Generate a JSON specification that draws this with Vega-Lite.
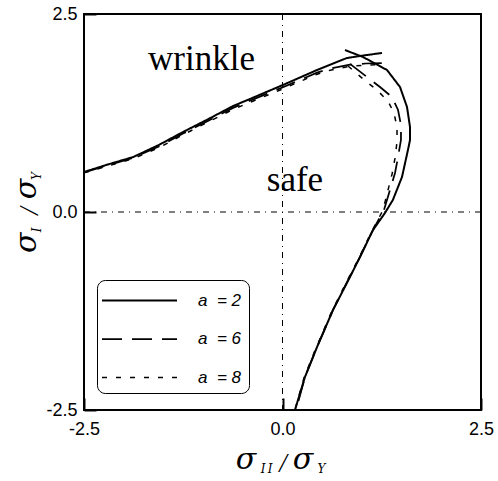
{
  "$schema": "https://vega.github.io/schema/vega-lite/v6.json",
  "width": 397,
  "height": 396,
  "autosize": {"type": "none"},
  "padding": {"left": 84, "top": 14, "right": 17, "bottom": 71},
  "background": "white",
  "config": {
    "view": {"stroke": "black", "strokeWidth": 2},
    "axis": {
      "domain": false,
      "grid": false,
      "ticks": true,
      "tickSize": -12,
      "tickWidth": 2,
      "tickColor": "black",
      "labelFont": "Liberation Sans",
      "labelFontSize": 18,
      "labelColor": "black",
      "labelFlush": false,
      "labelOverlap": false
    },
    "text": {"color": "black"}
  },
  "layer": [
    {
      "data": {
        "values": [
          {"a": "2", "part": "upper", "x": -2.5, "y": 0.505},
          {"a": "2", "part": "upper", "x": -2.2, "y": 0.6},
          {"a": "2", "part": "upper", "x": -1.88, "y": 0.694},
          {"a": "2", "part": "upper", "x": -1.55, "y": 0.85},
          {"a": "2", "part": "upper", "x": -1.253, "y": 1.01},
          {"a": "2", "part": "upper", "x": -0.94, "y": 1.17},
          {"a": "2", "part": "upper", "x": -0.623, "y": 1.338},
          {"a": "2", "part": "upper", "x": -0.41, "y": 1.427},
          {"a": "2", "part": "upper", "x": 0.006, "y": 1.604},
          {"a": "2", "part": "upper", "x": 0.435, "y": 1.793},
          {"a": "2", "part": "upper", "x": 0.81, "y": 1.944},
          {"a": "2", "part": "upper", "x": 0.976, "y": 1.97},
          {"a": "2", "part": "upper", "x": 1.253, "y": 2.008},

          {"a": "2", "part": "right", "x": 0.787, "y": 2.045},
          {"a": "2", "part": "right", "x": 1.014, "y": 1.957},
          {"a": "2", "part": "right", "x": 1.316, "y": 1.793},
          {"a": "2", "part": "right", "x": 1.48, "y": 1.578},
          {"a": "2", "part": "right", "x": 1.568, "y": 1.326},
          {"a": "2", "part": "right", "x": 1.606, "y": 1.073},
          {"a": "2", "part": "right", "x": 1.606, "y": 0.909},
          {"a": "2", "part": "right", "x": 1.58, "y": 0.783},
          {"a": "2", "part": "right", "x": 1.505, "y": 0.442},
          {"a": "2", "part": "right", "x": 1.39, "y": 0.152},
          {"a": "2", "part": "right", "x": 1.29, "y": -0.013},
          {"a": "2", "part": "right", "x": 1.14, "y": -0.227},
          {"a": "2", "part": "right", "x": 0.976, "y": -0.568},
          {"a": "2", "part": "right", "x": 0.85, "y": -0.82},
          {"a": "2", "part": "right", "x": 0.636, "y": -1.237},
          {"a": "2", "part": "right", "x": 0.435, "y": -1.705},
          {"a": "2", "part": "right", "x": 0.283, "y": -2.083},
          {"a": "2", "part": "right", "x": 0.157, "y": -2.5},

          {"a": "6", "part": "upper", "x": -2.5, "y": 0.5},
          {"a": "6", "part": "upper", "x": -2.2, "y": 0.59},
          {"a": "6", "part": "upper", "x": -1.88, "y": 0.685},
          {"a": "6", "part": "upper", "x": -1.55, "y": 0.83},
          {"a": "6", "part": "upper", "x": -1.253, "y": 0.99},
          {"a": "6", "part": "upper", "x": -0.94, "y": 1.15},
          {"a": "6", "part": "upper", "x": -0.623, "y": 1.315},
          {"a": "6", "part": "upper", "x": -0.3, "y": 1.45},
          {"a": "6", "part": "upper", "x": 0.006, "y": 1.575},
          {"a": "6", "part": "upper", "x": 0.435, "y": 1.76},
          {"a": "6", "part": "upper", "x": 0.6, "y": 1.81},
          {"a": "6", "part": "upper", "x": 0.85, "y": 1.86},
          {"a": "6", "part": "upper", "x": 1.05, "y": 1.875},
          {"a": "6", "part": "upper", "x": 1.25, "y": 1.88},

          {"a": "6", "part": "right", "x": 0.85, "y": 1.87},
          {"a": "6", "part": "right", "x": 1.064, "y": 1.705},
          {"a": "6", "part": "right", "x": 1.228, "y": 1.578},
          {"a": "6", "part": "right", "x": 1.379, "y": 1.452},
          {"a": "6", "part": "right", "x": 1.455, "y": 1.288},
          {"a": "6", "part": "right", "x": 1.492, "y": 1.098},
          {"a": "6", "part": "right", "x": 1.492, "y": 0.909},
          {"a": "6", "part": "right", "x": 1.455, "y": 0.694},
          {"a": "6", "part": "right", "x": 1.417, "y": 0.492},
          {"a": "6", "part": "right", "x": 1.354, "y": 0.278},
          {"a": "6", "part": "right", "x": 1.278, "y": 0.025},
          {"a": "6", "part": "right", "x": 1.127, "y": -0.25},
          {"a": "6", "part": "right", "x": 0.976, "y": -0.568},
          {"a": "6", "part": "right", "x": 0.84, "y": -0.833},
          {"a": "6", "part": "right", "x": 0.636, "y": -1.237},
          {"a": "6", "part": "right", "x": 0.435, "y": -1.705},
          {"a": "6", "part": "right", "x": 0.283, "y": -2.083},
          {"a": "6", "part": "right", "x": 0.17, "y": -2.5},

          {"a": "8", "part": "upper", "x": -2.5, "y": 0.495},
          {"a": "8", "part": "upper", "x": -2.2, "y": 0.58},
          {"a": "8", "part": "upper", "x": -1.88, "y": 0.675},
          {"a": "8", "part": "upper", "x": -1.55, "y": 0.815},
          {"a": "8", "part": "upper", "x": -1.253, "y": 0.975},
          {"a": "8", "part": "upper", "x": -0.94, "y": 1.135},
          {"a": "8", "part": "upper", "x": -0.623, "y": 1.295},
          {"a": "8", "part": "upper", "x": -0.3, "y": 1.43},
          {"a": "8", "part": "upper", "x": 0.006, "y": 1.555},
          {"a": "8", "part": "upper", "x": 0.435, "y": 1.74},
          {"a": "8", "part": "upper", "x": 0.6, "y": 1.79},
          {"a": "8", "part": "upper", "x": 0.85, "y": 1.84},
          {"a": "8", "part": "upper", "x": 1.05, "y": 1.855},
          {"a": "8", "part": "upper", "x": 1.2, "y": 1.86},

          {"a": "8", "part": "right", "x": 0.825, "y": 1.843},
          {"a": "8", "part": "right", "x": 1.014, "y": 1.68},
          {"a": "8", "part": "right", "x": 1.19, "y": 1.54},
          {"a": "8", "part": "right", "x": 1.329, "y": 1.4},
          {"a": "8", "part": "right", "x": 1.404, "y": 1.25},
          {"a": "8", "part": "right", "x": 1.442, "y": 1.073},
          {"a": "8", "part": "right", "x": 1.442, "y": 0.884},
          {"a": "8", "part": "right", "x": 1.417, "y": 0.68},
          {"a": "8", "part": "right", "x": 1.38, "y": 0.48},
          {"a": "8", "part": "right", "x": 1.329, "y": 0.278},
          {"a": "8", "part": "right", "x": 1.266, "y": 0.025},
          {"a": "8", "part": "right", "x": 1.114, "y": -0.265},
          {"a": "8", "part": "right", "x": 0.963, "y": -0.58},
          {"a": "8", "part": "right", "x": 0.825, "y": -0.846},
          {"a": "8", "part": "right", "x": 0.623, "y": -1.25},
          {"a": "8", "part": "right", "x": 0.422, "y": -1.717},
          {"a": "8", "part": "right", "x": 0.27, "y": -2.096},
          {"a": "8", "part": "right", "x": 0.157, "y": -2.5}
        ]
      },
      "mark": {"type": "line", "color": "black", "strokeCap": "butt"},
      "encoding": {
        "x": {
          "field": "x", "type": "quantitative",
          "scale": {"domain": [-2.5, 2.5], "nice": false, "zero": false},
          "axis": {
            "title": null,
            "values": [-2.5, 0, 2.5],
            "labelExpr": "datum.value < 0 ? '-2.5' : format(datum.value, '.1f')",
            "labelPadding": 22
          }
        },
        "y": {
          "field": "y", "type": "quantitative",
          "scale": {"domain": [-2.5, 2.5], "nice": false, "zero": false},
          "axis": {
            "title": null,
            "values": [-2.5, 0, 2.5],
            "labelExpr": "datum.value < 0 ? '-2.5' : format(datum.value, '.1f')",
            "labelPadding": 19
          }
        },
        "detail": {"field": "part"},
        "order": {"value": null},
        "strokeDash": {
          "field": "a", "type": "ordinal",
          "scale": {"domain": ["2", "6", "8"], "range": [[1, 0], [20, 10], [5, 9]]},
          "legend": {
            "title": null,
            "orient": "none",
            "legendX": 13,
            "legendY": 266,
            "labelExpr": "'a\u00a0\u00a0= ' + datum.label",
            "strokeColor": "black",
            "cornerRadius": 8,
            "fillColor": "white",
            "padding": 7,
            "rowPadding": 16.5,
            "symbolType": "M-3,0H3",
            "symbolSize": 625,
            "symbolStrokeWidth": 1.5,
            "symbolStrokeColor": "black",
            "symbolOffset": 22,
            "labelOffset": 45,
            "labelFont": "Liberation Sans",
            "labelFontSize": 17,
            "labelFontStyle": "italic",
            "labelColor": "black"
          }
        },
        "strokeWidth": {
          "field": "a", "type": "ordinal",
          "scale": {"domain": ["2", "6", "8"], "range": [2, 1.5, 1.5]},
          "legend": null
        }
      }
    },
    {
      "data": {"values": [{}]},
      "mark": {"type": "rule", "color": "black", "strokeWidth": 1, "strokeDash": [6, 5, 1, 5]},
      "encoding": {
        "x": {"datum": 0, "type": "quantitative", "scale": {"domain": [-2.5, 2.5], "nice": false}}
      }
    },
    {
      "data": {"values": [{}]},
      "mark": {"type": "rule", "color": "black", "strokeWidth": 1, "strokeDash": [6, 5, 1, 5]},
      "encoding": {
        "y": {"datum": 0, "type": "quantitative", "scale": {"domain": [-2.5, 2.5], "nice": false}}
      }
    },
    {
      "data": {"values": [{}]},
      "mark": {"type": "text", "text": "wrinkle", "font": "Liberation Serif", "fontSize": 35, "align": "center", "baseline": "alphabetic"},
      "encoding": {
        "x": {"datum": -1.02, "type": "quantitative", "scale": {"domain": [-2.5, 2.5], "nice": false}},
        "y": {"datum": 1.79, "type": "quantitative", "scale": {"domain": [-2.5, 2.5], "nice": false}}
      }
    },
    {
      "data": {"values": [{}]},
      "mark": {"type": "text", "text": "safe", "font": "Liberation Serif", "fontSize": 35, "align": "center", "baseline": "alphabetic"},
      "encoding": {
        "x": {"datum": 0.157, "type": "quantitative", "scale": {"domain": [-2.5, 2.5], "nice": false}},
        "y": {"datum": 0.27, "type": "quantitative", "scale": {"domain": [-2.5, 2.5], "nice": false}}
      }
    },
    {
      "data": {"values": [{}]},
      "mark": {"type": "text", "text": "σ", "font": "DejaVu Serif", "fontStyle": "italic", "fontSize": 30, "align": "center", "baseline": "alphabetic"},
      "encoding": {
        "x": {"datum": -0.46, "type": "quantitative", "scale": {"domain": [-2.5, 2.5], "nice": false}},
        "y": {"datum": -3.24, "type": "quantitative", "scale": {"domain": [-2.5, 2.5], "nice": false}}
      }
    },
    {
      "data": {"values": [{}]},
      "mark": {"type": "text", "text": "I\u2009I", "font": "DejaVu Serif", "fontStyle": "italic", "fontSize": 12, "align": "center", "baseline": "alphabetic"},
      "encoding": {
        "x": {"datum": -0.2, "type": "quantitative", "scale": {"domain": [-2.5, 2.5], "nice": false}},
        "y": {"datum": -3.3, "type": "quantitative", "scale": {"domain": [-2.5, 2.5], "nice": false}}
      }
    },
    {
      "data": {"values": [{}]},
      "mark": {"type": "text", "text": "/", "font": "Liberation Serif", "fontStyle": "italic", "fontSize": 27, "align": "center", "baseline": "alphabetic"},
      "encoding": {
        "x": {"datum": 0.006, "type": "quantitative", "scale": {"domain": [-2.5, 2.5], "nice": false}},
        "y": {"datum": -3.28, "type": "quantitative", "scale": {"domain": [-2.5, 2.5], "nice": false}}
      }
    },
    {
      "data": {"values": [{}]},
      "mark": {"type": "text", "text": "σ", "font": "DejaVu Serif", "fontStyle": "italic", "fontSize": 30, "align": "center", "baseline": "alphabetic"},
      "encoding": {
        "x": {"datum": 0.258, "type": "quantitative", "scale": {"domain": [-2.5, 2.5], "nice": false}},
        "y": {"datum": -3.24, "type": "quantitative", "scale": {"domain": [-2.5, 2.5], "nice": false}}
      }
    },
    {
      "data": {"values": [{}]},
      "mark": {"type": "text", "text": "Y", "font": "DejaVu Serif", "fontStyle": "italic", "fontSize": 12, "align": "center", "baseline": "alphabetic"},
      "encoding": {
        "x": {"datum": 0.49, "type": "quantitative", "scale": {"domain": [-2.5, 2.5], "nice": false}},
        "y": {"datum": -3.3, "type": "quantitative", "scale": {"domain": [-2.5, 2.5], "nice": false}}
      }
    },
    {
      "data": {"values": [{}]},
      "mark": {"type": "text", "text": "σ", "font": "DejaVu Serif", "fontStyle": "italic", "fontSize": 30, "align": "center", "baseline": "alphabetic", "angle": 270},
      "encoding": {
        "x": {"datum": -3.1, "type": "quantitative", "scale": {"domain": [-2.5, 2.5], "nice": false}},
        "y": {"datum": -0.39, "type": "quantitative", "scale": {"domain": [-2.5, 2.5], "nice": false}}
      }
    },
    {
      "data": {"values": [{}]},
      "mark": {"type": "text", "text": "I", "font": "DejaVu Serif", "fontStyle": "italic", "fontSize": 12, "align": "center", "baseline": "alphabetic", "angle": 270},
      "encoding": {
        "x": {"datum": -3.04, "type": "quantitative", "scale": {"domain": [-2.5, 2.5], "nice": false}},
        "y": {"datum": -0.227, "type": "quantitative", "scale": {"domain": [-2.5, 2.5], "nice": false}}
      }
    },
    {
      "data": {"values": [{}]},
      "mark": {"type": "text", "text": "/", "font": "Liberation Serif", "fontStyle": "italic", "fontSize": 27, "align": "center", "baseline": "alphabetic", "angle": 270},
      "encoding": {
        "x": {"datum": -3.08, "type": "quantitative", "scale": {"domain": [-2.5, 2.5], "nice": false}},
        "y": {"datum": 0.013, "type": "quantitative", "scale": {"domain": [-2.5, 2.5], "nice": false}}
      }
    },
    {
      "data": {"values": [{}]},
      "mark": {"type": "text", "text": "σ", "font": "DejaVu Serif", "fontStyle": "italic", "fontSize": 30, "align": "center", "baseline": "alphabetic", "angle": 270},
      "encoding": {
        "x": {"datum": -3.1, "type": "quantitative", "scale": {"domain": [-2.5, 2.5], "nice": false}},
        "y": {"datum": 0.29, "type": "quantitative", "scale": {"domain": [-2.5, 2.5], "nice": false}}
      }
    },
    {
      "data": {"values": [{}]},
      "mark": {"type": "text", "text": "Y", "font": "DejaVu Serif", "fontStyle": "italic", "fontSize": 12, "align": "center", "baseline": "alphabetic", "angle": 270},
      "encoding": {
        "x": {"datum": -3.04, "type": "quantitative", "scale": {"domain": [-2.5, 2.5], "nice": false}},
        "y": {"datum": 0.455, "type": "quantitative", "scale": {"domain": [-2.5, 2.5], "nice": false}}
      }
    }
  ]
}
